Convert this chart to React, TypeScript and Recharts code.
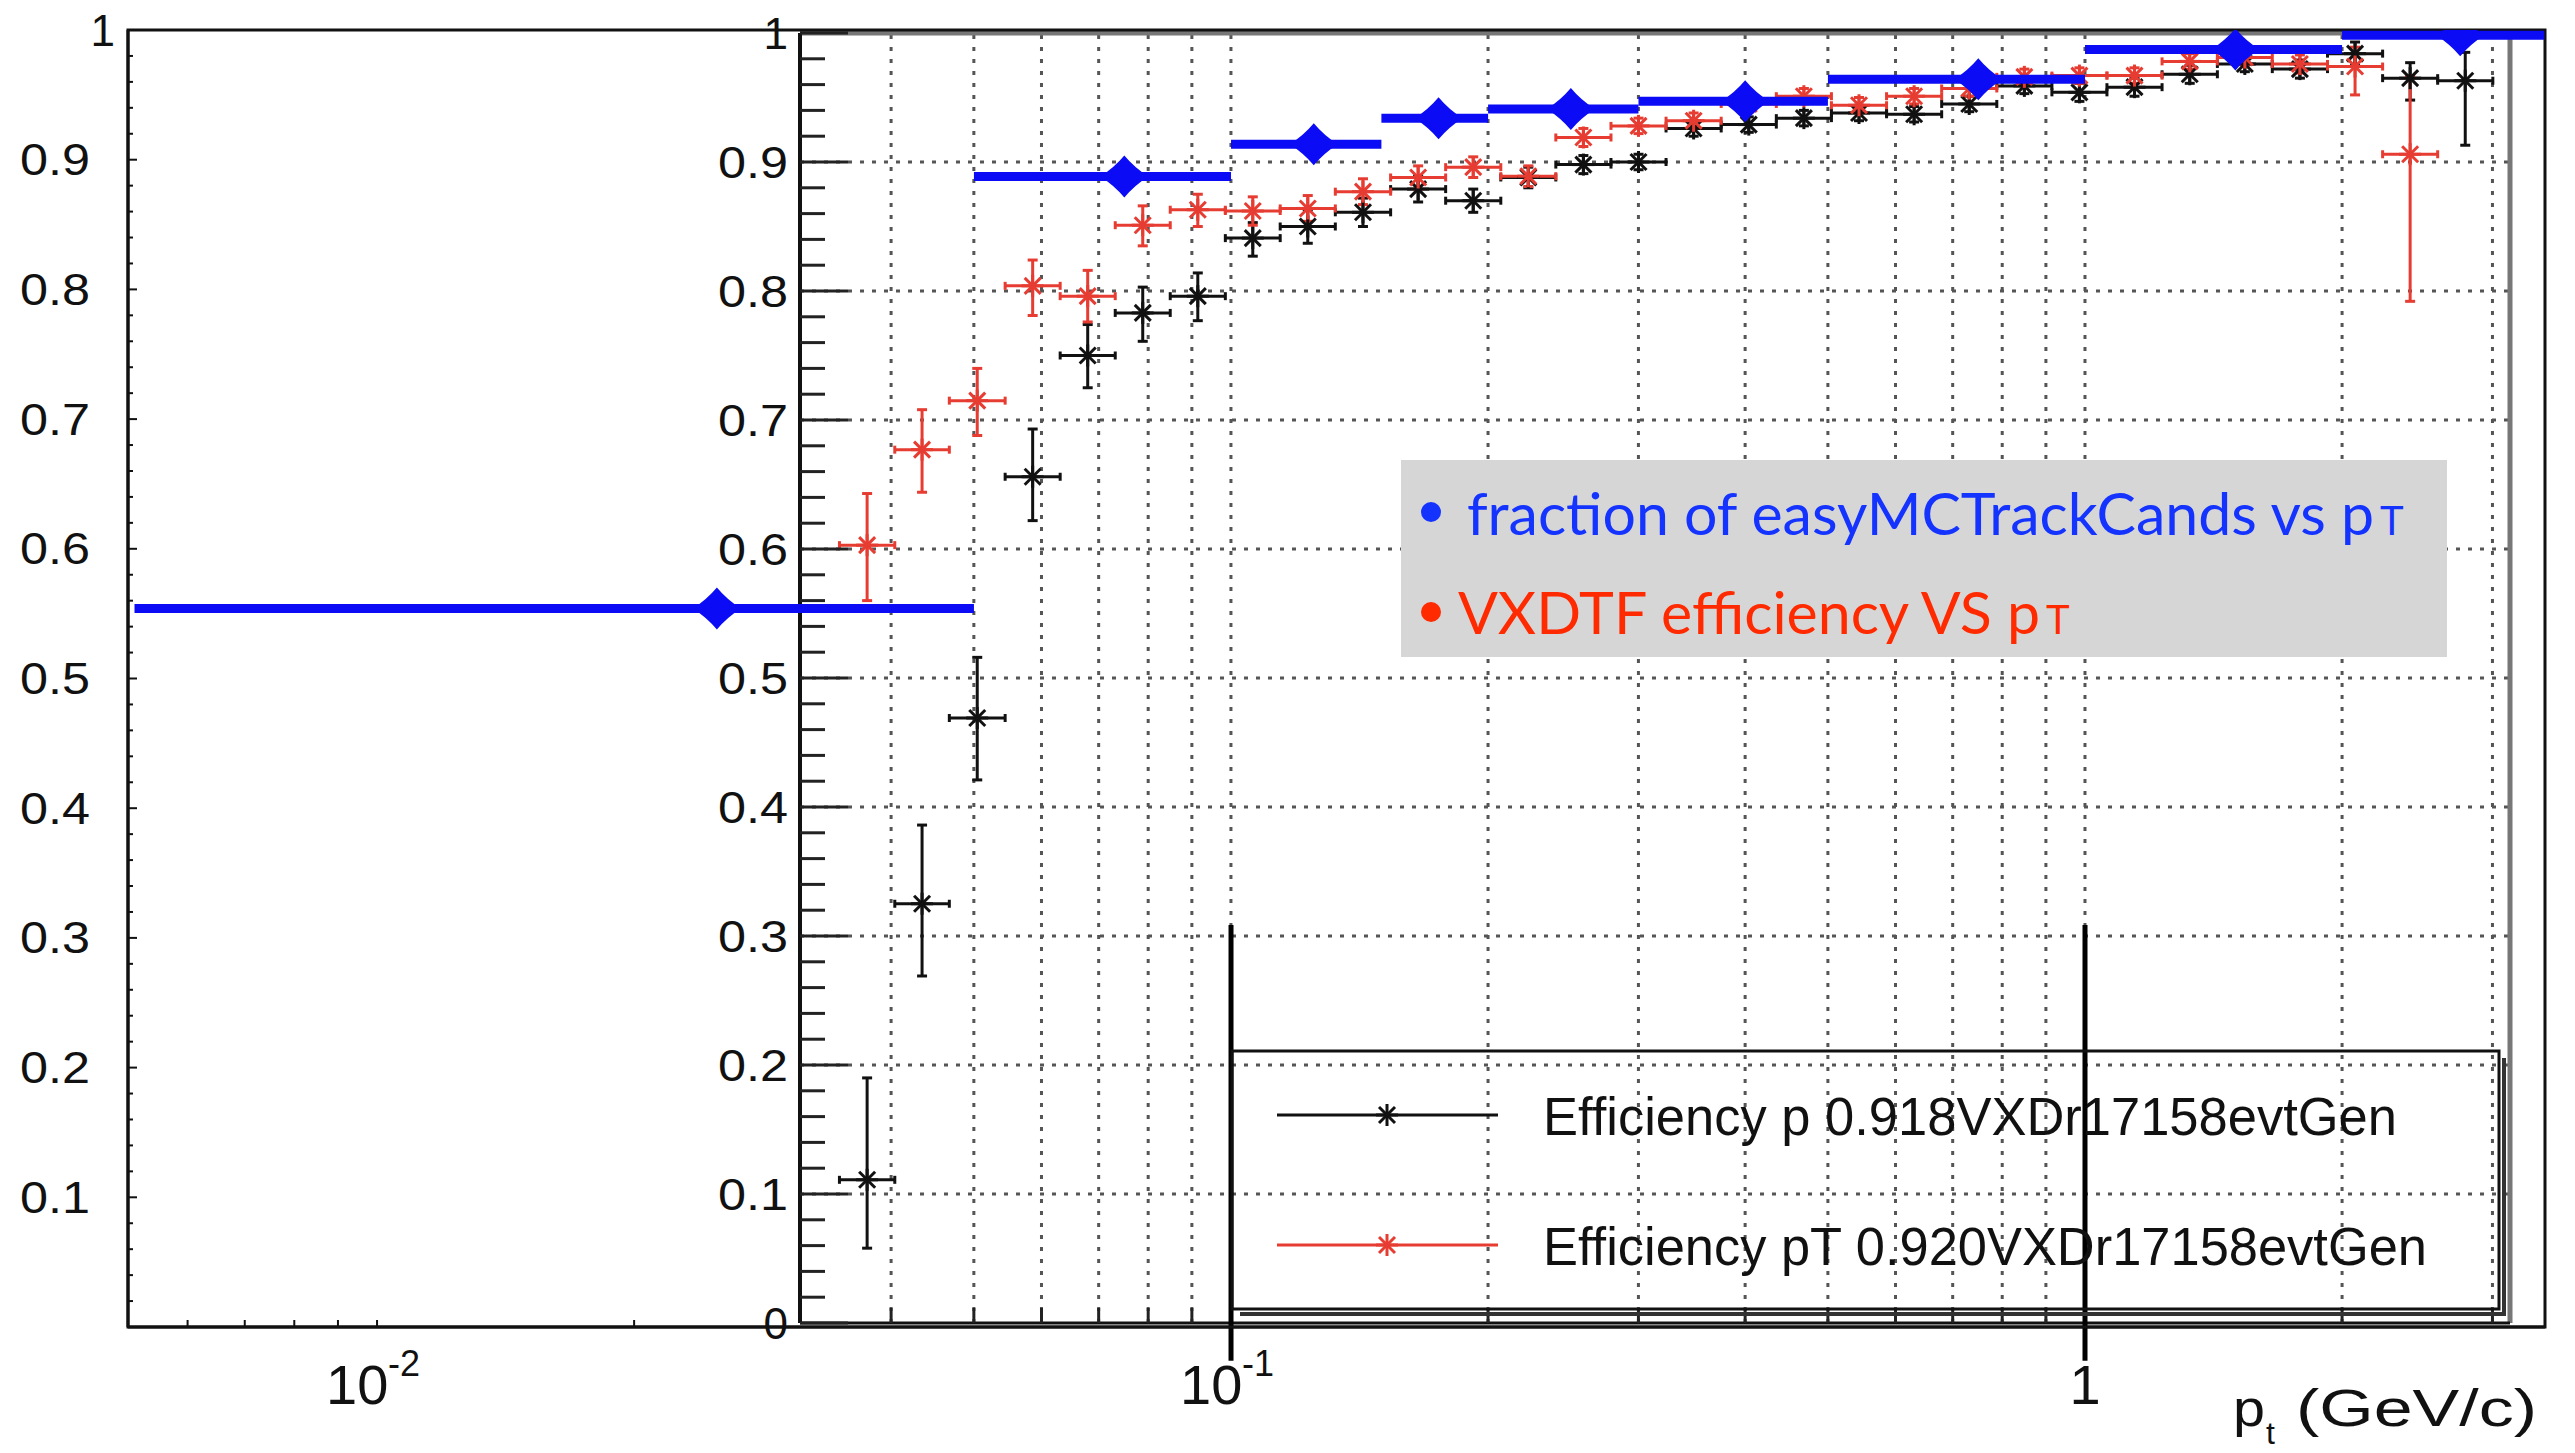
import React from 'react';
import { ScatterChart, Scatter, XAxis, YAxis, ErrorBar, ReferenceArea, ReferenceLine } from 'recharts';

const W = 2575;
const H = 1453;

const BLUE = '#0b0bf5';
const RED = '#e63c32';
const BLACK = '#111';
const FONT = "'Liberation Sans', Arial, sans-serif";

// log x domains, both plots share 854 px per decade
const OUTER_X = [0.0051095, 3.4566];
const INNER_X = [0.031289, 3.1453];

// bin edges (GeV/c) of the two efficiency histograms
const BIN_EDGES = [0.0348, 0.0404, 0.0468, 0.0544, 0.0631, 0.0732, 0.0849, 0.0985, 0.1142, 0.1325, 0.1538,
  0.1784, 0.207, 0.2401, 0.2786, 0.3232, 0.375, 0.4351, 0.5048, 0.5857, 0.6795, 0.7884, 0.9147, 1.061, 1.231,
  1.429, 1.657, 1.923, 2.231, 2.588, 3.003];

// Efficiency p 0.918VXDr17158evtGen (black)
const EFF_P = [0.111, 0.325, 0.469, 0.656, 0.75, 0.783, 0.796, 0.841, 0.85, 0.861, 0.879, 0.87, 0.888, 0.898, 0.9,
  0.926, 0.929, 0.934, 0.938, 0.937, 0.945, 0.959, 0.954, 0.958, 0.968, 0.976, 0.972, 0.984, 0.965, 0.963];
const EFF_P_DOWN = [0.053, 0.056, 0.048, 0.034, 0.025, 0.022, 0.019, 0.014, 0.013, 0.011, 0.01, 0.009, 0.008, 0.007,
  0.006, 0.006, 0.006, 0.006, 0.006, 0.006, 0.006, 0.006, 0.007, 0.007, 0.007, 0.006, 0.007, 0.009, 0.017, 0.05];
const EFF_P_UP = [0.079, 0.061, 0.047, 0.037, 0.024, 0.02, 0.018, 0.012, 0.013, 0.011, 0.01, 0.009, 0.008, 0.007,
  0.006, 0.006, 0.006, 0.006, 0.006, 0.006, 0.006, 0.006, 0.007, 0.007, 0.007, 0.006, 0.007, 0.009, 0.012, 0.022];

// Efficiency pT 0.920VXDr17158evtGen (red), last bin not visible
const EFF_PT = [0.603, 0.677, 0.715, 0.804, 0.796, 0.851, 0.863, 0.862, 0.864, 0.877, 0.888, 0.896, 0.889, 0.919,
  0.928, 0.932, 0.945, 0.951, 0.944, 0.951, 0.957, 0.966, 0.967, 0.967, 0.978, 0.981, 0.976, 0.974, 0.906];
const EFF_PT_DOWN = [0.043, 0.033, 0.027, 0.023, 0.02, 0.016, 0.013, 0.011, 0.01, 0.01, 0.009, 0.008, 0.008, 0.007,
  0.006, 0.006, 0.006, 0.006, 0.006, 0.006, 0.006, 0.006, 0.006, 0.006, 0.006, 0.006, 0.007, 0.022, 0.114];
const EFF_PT_UP = [0.04, 0.031, 0.025, 0.02, 0.02, 0.015, 0.012, 0.011, 0.01, 0.01, 0.009, 0.008, 0.008, 0.007,
  0.006, 0.006, 0.006, 0.006, 0.006, 0.006, 0.006, 0.006, 0.006, 0.006, 0.006, 0.006, 0.007, 0.015, 0.061];

// fraction of easyMCTrackCands vs pT (blue)
const EASY_LO = [0.0052, 0.05, 0.1, 0.15, 0.2, 0.3, 0.5, 1.0, 2.0];
const EASY_HI = [0.05, 0.1, 0.15, 0.2, 0.3, 0.5, 1.0, 2.0, 3.45];
const EASY_X = [0.025, 0.075, 0.125, 0.175, 0.25, 0.4, 0.75, 1.5, 2.75];
const EASY_FRAC = [0.554, 0.887, 0.912, 0.932, 0.939, 0.945, 0.962, 0.985, 0.996];

const OUTER_X_TICKS = [0.006, 0.007, 0.008, 0.009, 0.01, 0.02, 0.1, 1];
const OUTER_X_LABELS: Record<string, string> = { '0.01': '-2', '0.1': '-1', '1': '' };
const INNER_X_TICKS = [0.04, 0.05, 0.06, 0.07, 0.08, 0.09, 0.1, 0.2, 0.3, 0.4, 0.5, 0.6, 0.7, 0.8, 0.9, 1, 2, 3];
const Y_GRID = [0.1, 0.2, 0.3, 0.4, 0.5, 0.6, 0.7, 0.8, 0.9];
const Y_TICKS = Array.from({ length: 51 }, (_, i) => Math.round(i * 2) / 100);

const isTenth = (v: number) => Math.abs(v * 10 - Math.round(v * 10)) < 1e-6;

const effRows = (vals: number[], down: number[], up: number[]) =>
  vals.map((v, i) => {
    const c = Math.sqrt(BIN_EDGES[i] * BIN_EDGES[i + 1]);
    return { x: c, y: v, ex: [c - BIN_EDGES[i], BIN_EDGES[i + 1] - c], ey: [down[i], up[i]] };
  });

const pData = effRows(EFF_P, EFF_P_DOWN, EFF_P_UP);
const ptData = effRows(EFF_PT, EFF_PT_DOWN, EFF_PT_UP);
const easyData = EASY_X.map((x, i) => ({ x, y: EASY_FRAC[i], ex: [x - EASY_LO[i], EASY_HI[i] - x] }));

const Star = ({ cx, cy, color }: { cx: number; cy: number; color: string }) => (
  <g stroke={color} strokeWidth={3}>
    <line x1={cx - 11} y1={cy} x2={cx + 11} y2={cy} />
    <line x1={cx} y1={cy - 11} x2={cx} y2={cy + 11} />
    <line x1={cx - 8} y1={cy - 8} x2={cx + 8} y2={cy + 8} />
    <line x1={cx - 8} y1={cy + 8} x2={cx + 8} y2={cy - 8} />
  </g>
);

// blue marker: a fat four-point blob sitting on the bin bar
const Blob = (p: any) => {
  const { cx, cy } = p;
  const d = `M${cx},${cy - 21} Q${cx + 10},${cy - 9} ${cx + 24},${cy} Q${cx + 10},${cy + 9} ${cx},${cy + 21} ` +
    `Q${cx - 10},${cy + 9} ${cx - 24},${cy} Q${cx - 10},${cy - 9} ${cx},${cy - 21} Z`;
  return (
    <g fill={BLUE}>
      <path d={d} />
      <ellipse cx={cx} cy={cy} rx={13} ry={11} />
    </g>
  );
};

const yLabel = (v: number) => (v === 1 ? '1' : v === 0 ? '0' : v.toFixed(1));

const OuterYTick = ({ x, y, payload }: any) => {
  const v = payload.value;
  const major = isTenth(v);
  return (
    <g>
      <line x1={x} x2={x + (major ? 9 : 5)} y1={y} y2={y} stroke={BLACK} strokeWidth={2} />
      {major && v > 0 && (
        <text x={v === 1 ? x - 13 : x - 38} y={y} textAnchor="end" dominantBaseline="central" fontFamily={FONT}
          fontSize={44} fill={BLACK} {...(v === 1 ? {} : { textLength: 70, lengthAdjust: 'spacingAndGlyphs' })}>
          {yLabel(v)}
        </text>
      )}
    </g>
  );
};

const InnerYTick = ({ x, y, payload }: any) => {
  const v = payload.value;
  const major = isTenth(v);
  return (
    <g>
      <line x1={x} x2={x + (major ? 48 : 25)} y1={y} y2={y} stroke="#222" strokeWidth={3} />
      {major && (
        <text x={x - 12} y={y} textAnchor="end" dominantBaseline="central" fontFamily={FONT} fontSize={44}
          fill={BLACK} {...(v === 1 || v === 0 ? {} : { textLength: 70, lengthAdjust: 'spacingAndGlyphs' })}>
          {yLabel(v)}
        </text>
      )}
    </g>
  );
};

const OuterXTick = ({ x, y, payload }: any) => {
  const v = payload.value;
  const key = String(v);
  const sup = OUTER_X_LABELS[key];
  return (
    <g>
      {v < 0.05 && <line x1={x} x2={x} y1={y} y2={y - 7} stroke={BLACK} strokeWidth={2} />}
      {sup === '' && (
        <text x={x} y={y + 77} textAnchor="middle" fontFamily={FONT} fontSize={56} fill={BLACK}>1</text>
      )}
      {sup && (
        <g fontFamily={FONT} fill={BLACK}>
          <text x={x - 51} y={y + 77} fontSize={56}>10</text>
          <text x={x + 11} y={y + 49} fontSize={36}>{sup}</text>
        </g>
      )}
    </g>
  );
};

const InnerXTick = ({ x, y }: any) => <line x1={x} x2={x} y1={y} y2={y - 15} stroke="#222" strokeWidth={3} />;

const InnerPlot = () => (
  <ScatterChart width={W} height={H} margin={{ top: 33, right: 65, bottom: 0, left: 0 }}>
    <XAxis type="number" dataKey="x" scale="log" domain={INNER_X} allowDataOverflow ticks={INNER_X_TICKS}
      interval={0} tick={<InnerXTick />} tickLine={false} tickSize={0} tickMargin={0} height={130}
      axisLine={{ stroke: BLACK, strokeWidth: 3 }} />
    <YAxis type="number" dataKey="y" domain={[0, 1]} allowDataOverflow ticks={Y_TICKS} interval={0}
      tick={<InnerYTick />} tickLine={false} tickSize={0} tickMargin={0} width={800}
      axisLine={{ stroke: BLACK, strokeWidth: 4 }} />
    {Y_GRID.map((v) => (
      <ReferenceLine key={'gy' + v} y={v} stroke="#555" strokeWidth={3} strokeDasharray="4 8" />
    ))}
    {INNER_X_TICKS.map((v) => (
      <ReferenceLine key={'gx' + v} x={v} stroke="#555" strokeWidth={3} strokeDasharray="4 8" />
    ))}
    <ReferenceLine y={1} stroke="#777" strokeWidth={5} ifOverflow="visible" />
    <ReferenceLine x={INNER_X[1]} stroke="#777" strokeWidth={5} ifOverflow="visible" />
    <Scatter data={pData} isAnimationActive={false} shape={(p: any) => <Star cx={p.cx} cy={p.cy} color={BLACK} />}>
      <ErrorBar dataKey="ex" direction="x" width={4} stroke={BLACK} strokeWidth={3} isAnimationActive={false} />
      <ErrorBar dataKey="ey" direction="y" width={5} stroke={BLACK} strokeWidth={3} isAnimationActive={false} />
    </Scatter>
    <Scatter data={ptData} isAnimationActive={false} shape={(p: any) => <Star cx={p.cx} cy={p.cy} color={RED} />}>
      <ErrorBar dataKey="ex" direction="x" width={4} stroke={RED} strokeWidth={3} isAnimationActive={false} />
      <ErrorBar dataKey="ey" direction="y" width={5} stroke={RED} strokeWidth={3} isAnimationActive={false} />
    </Scatter>
  </ScatterChart>
);

const OuterPlot = () => (
  <ScatterChart width={W} height={H} margin={{ top: 30, right: 30, bottom: 0, left: 0 }}>
    <XAxis type="number" dataKey="x" scale="log" domain={OUTER_X} allowDataOverflow ticks={OUTER_X_TICKS}
      interval={0} tick={<OuterXTick />} tickLine={false} tickSize={0} tickMargin={0} height={126}
      axisLine={{ stroke: BLACK, strokeWidth: 3 }} />
    <YAxis type="number" dataKey="y" domain={[0, 1]} allowDataOverflow ticks={Y_TICKS} interval={0}
      tick={<OuterYTick />} tickLine={false} tickSize={0} tickMargin={0} width={128}
      axisLine={{ stroke: BLACK, strokeWidth: 3 }} />
    <ReferenceArea x1={OUTER_X[0]} x2={OUTER_X[1]} y1={0} y2={1} fill="none" fillOpacity={0} stroke={BLACK}
      strokeWidth={3} ifOverflow="visible" />
    <ReferenceLine segment={[{ x: 0.1, y: 0.31 }, { x: 0.1, y: -0.026 }]} stroke="#000" strokeWidth={5}
      ifOverflow="visible" />
    <ReferenceLine segment={[{ x: 1, y: 0.31 }, { x: 1, y: -0.026 }]} stroke="#000" strokeWidth={5}
      ifOverflow="visible" />
    <Scatter data={easyData} isAnimationActive={false} shape={<Blob />}>
      <ErrorBar dataKey="ex" direction="x" width={0} stroke={BLUE} strokeWidth={9} isAnimationActive={false} />
    </Scatter>
  </ScatterChart>
);

const NOTE_FONT = "Lato, 'Open Sans', sans-serif";
const NOTE_BLUE = '#1433ff';
const NOTE_RED = '#ff2a00';

const Notes = () => (
  <svg width={W} height={H} style={{ position: 'absolute', left: 0, top: 0 }}>
    <rect x={1401} y={460} width={1046} height={197} fill="#d6d6d6" />
    <circle cx={1431} cy={512} r={10} fill={NOTE_BLUE} />
    <text x={2374} y={535} textAnchor="end" fontFamily={NOTE_FONT} fontSize={59} fill={NOTE_BLUE}>
      fraction of easyMCTrackCands vs p
    </text>
    <text x={2380} y={535} fontFamily={NOTE_FONT} fontSize={40} fill={NOTE_BLUE}>T</text>
    <circle cx={1431} cy={612} r={10} fill={NOTE_RED} />
    <text x={2040} y={634} textAnchor="end" fontFamily={NOTE_FONT} fontSize={59} fill={NOTE_RED}>
      VXDTF efficiency VS p
    </text>
    <text x={2046} y={634} fontFamily={NOTE_FONT} fontSize={40} fill={NOTE_RED}>T</text>

    <rect x={1232} y={1051} width={1267} height={258} fill="none" stroke={BLACK} strokeWidth={3} />
    <polyline points="1240,1314 2504,1314 2504,1058" fill="none" stroke="#333" strokeWidth={4} />
    <line x1={1277} x2={1498} y1={1115} y2={1115} stroke={BLACK} strokeWidth={3} />
    <Star cx={1387} cy={1115} color={BLACK} />
    <text x={1543} y={1135} fontFamily={FONT} fontSize={54} fill={BLACK} textLength={854}
      lengthAdjust="spacingAndGlyphs">Efficiency p 0.918VXDr17158evtGen</text>
    <line x1={1277} x2={1498} y1={1245} y2={1245} stroke={RED} strokeWidth={3} />
    <Star cx={1387} cy={1245} color={RED} />
    <text x={1543} y={1265} fontFamily={FONT} fontSize={54} fill={BLACK} textLength={884}
      lengthAdjust="spacingAndGlyphs">Efficiency pT 0.920VXDr17158evtGen</text>

    <text x={2233} y={1426} fontFamily={FONT} fontSize={52} fill={BLACK} textLength={32}
      lengthAdjust="spacingAndGlyphs">p</text>
    <text x={2266} y={1444} fontFamily={FONT} fontSize={32} fill={BLACK}>t</text>
    <text x={2296} y={1426} fontFamily={FONT} fontSize={52} fill={BLACK} textLength={241}
      lengthAdjust="spacingAndGlyphs">(GeV/c)</text>
  </svg>
);

export default function App() {
  return (
    <div style={{ position: 'absolute', left: 0, top: 0, width: W, height: H, background: '#fff', overflow: 'hidden' }}>
      <div style={{ position: 'absolute', left: 0, top: 0 }}>
        <InnerPlot />
      </div>
      <div style={{ position: 'absolute', left: 0, top: 0 }}>
        <OuterPlot />
      </div>
      <Notes />
    </div>
  );
}
